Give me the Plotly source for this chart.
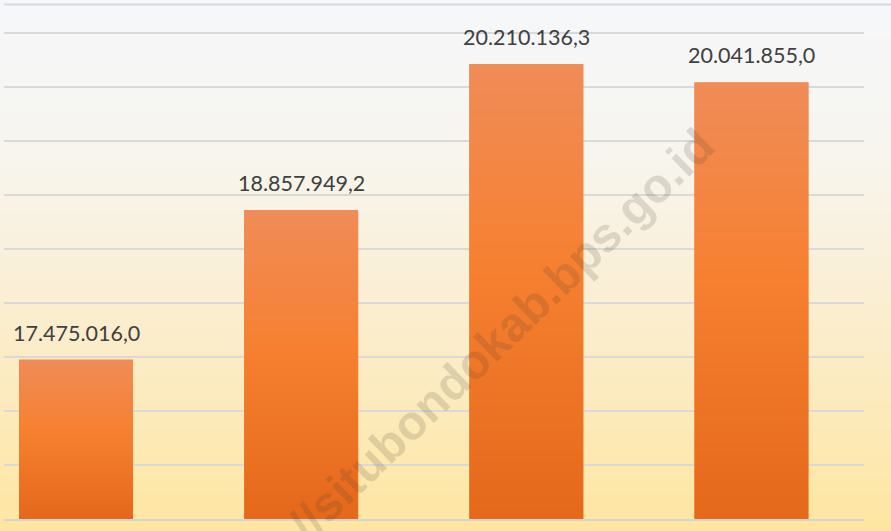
import base64
import struct
import zlib

import plotly.graph_objects as go

# ---- data ----
categories = ["1", "2", "3", "4"]
values = [17475016.0, 18857949.2, 20210136.3, 20041855.0]
y_min = 16000000
y_max = 20759000
y_step = 500000
watermark = "//situbondokab.bps.go.id"

BAR_WIDTH = 0.506


def fmt_id(v):
    s = f"{v:,.1f}"
    return s.replace(",", "X").replace(".", ",").replace("X", ".")


labels = [fmt_id(v) for v in values]


# ---- vertical gradient as a tiny PNG ----
def gradient_png(stops, height=256):
    rows = b""
    for r in range(height):
        t = r / (height - 1)
        for i in range(len(stops) - 1):
            t0, c0 = stops[i]
            t1, c1 = stops[i + 1]
            if t0 <= t <= t1:
                f = (t - t0) / (t1 - t0) if t1 > t0 else 0
                col = [round(c0[k] + (c1[k] - c0[k]) * f) for k in range(3)]
                break
        rows += b"\x00" + bytes(col)

    def chunk(tag, data):
        c = tag + data
        return struct.pack(">I", len(data)) + c + struct.pack(">I", zlib.crc32(c) & 0xFFFFFFFF)

    png = b"\x89PNG\r\n\x1a\n"
    png += chunk(b"IHDR", struct.pack(">IIBBBBB", 1, height, 8, 2, 0, 0, 0))
    png += chunk(b"IDAT", zlib.compress(rows, 9))
    png += chunk(b"IEND", b"")
    return "data:image/png;base64," + base64.b64encode(png).decode()


bg_stops = [
    (0.0, (245, 247, 251)),
    (0.3, (247, 245, 238)),
    (0.55, (250, 239, 212)),
    (0.78, (252, 234, 186)),
    (1.0, (254, 230, 160)),
]
bar_stops = [
    (0.0, (240, 140, 88)),
    (0.45, (246, 128, 48)),
    (1.0, (229, 104, 27)),
]

fig = go.Figure()
fig.add_trace(
    go.Bar(
        x=list(range(len(categories))),
        y=[v - y_min for v in values],
        base=y_min,
        width=BAR_WIDTH,
        marker=dict(color="#f17c2c", line=dict(width=0)),
        hoverinfo="skip",
        showlegend=False,
    )
)

for i, (v, lab) in enumerate(zip(values, labels)):
    fig.add_annotation(
        x=i, y=v, text=lab, showarrow=False, yanchor="bottom", xanchor="center",
        yshift=12, font=dict(family="Lato", size=21.5, color="#404040"),
    )

fig.add_annotation(
    x=0.579, y=0.358, xref="paper", yref="paper", text=f"<b>{watermark}</b>",
    showarrow=False, textangle=-44,
    font=dict(family="Liberation Sans", size=48, color="rgba(70,60,50,0.16)"),
)

bar_png = gradient_png(bar_stops)
images = [dict(
    source=gradient_png(bg_stops), xref="paper", yref="paper",
    x=-0.01, y=1.02, sizex=1.05, sizey=1.05, sizing="stretch",
    xanchor="left", yanchor="top", layer="below",
)]
for i, v in enumerate(values):
    images.append(dict(
        source=bar_png, xref="x", yref="y",
        x=i - BAR_WIDTH / 2, y=v, sizex=BAR_WIDTH, sizey=v - y_min,
        sizing="stretch", xanchor="left", yanchor="top", layer="above",
    ))

fig.update_layout(
    width=891,
    height=531,
    margin=dict(l=4, r=27, t=5, b=12),
    paper_bgcolor="rgba(0,0,0,0)",
    plot_bgcolor="rgba(0,0,0,0)",
    images=images,
    xaxis=dict(
        range=[-0.32, 3.5], showticklabels=False, showgrid=False, zeroline=False,
        showline=True, linecolor="#d4d4d4", linewidth=2, ticks="",
    ),
    yaxis=dict(
        range=[y_min, y_max], tick0=y_min, dtick=y_step, showticklabels=False,
        showgrid=True, gridcolor="#d9d9d9", gridwidth=1.5, zeroline=False, ticks="",
    ),
    shapes=[dict(
        type="line", xref="paper", yref="paper", x0=0, x1=887 / 860, y0=1.001, y1=1.001,
        line=dict(color="#d9d9d9", width=2),
    )],
    font=dict(family="Lato"),
)

fig.write_html(
    "out.html",
    config={"displayModeBar": False},
    post_script="document.body.style.margin='0';document.body.style.overflow='hidden';",
)
